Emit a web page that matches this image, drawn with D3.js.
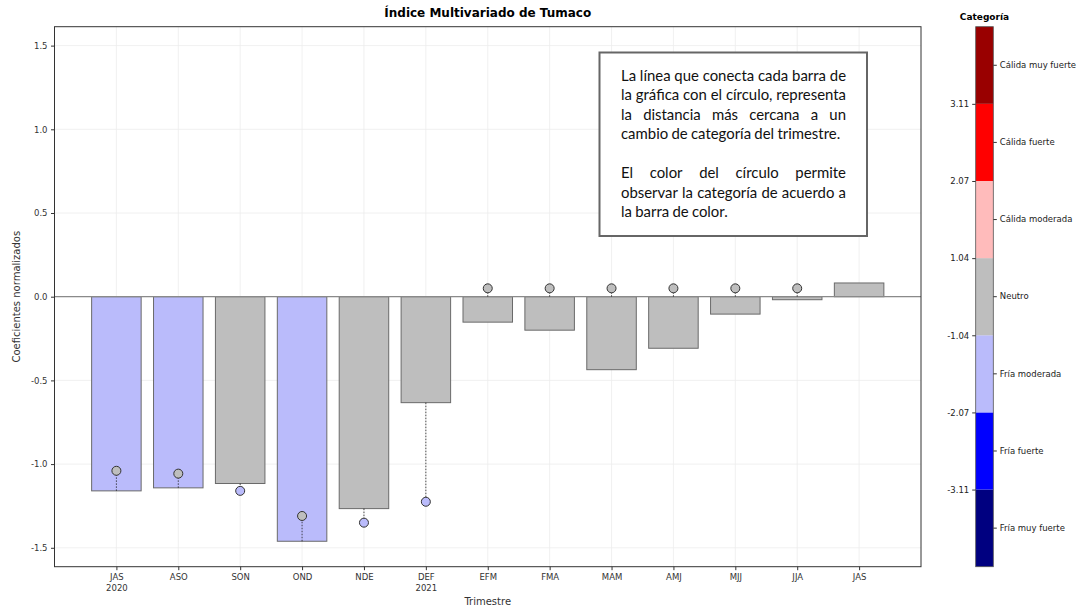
<!DOCTYPE html>
<html>
<head>
<meta charset="utf-8">
<script src="https://cdn.jsdelivr.net/npm/d3@7"></script>
<style>
  body { margin: 0; background: #fff; }
  svg { display: block; }
</style>
</head>
<body>
<div id="chart"></div>
<script>
// datos del gráfico
var trimestres = ["JAS", "ASO", "SON", "OND", "NDE", "DEF", "EFM", "FMA", "MAM", "AMJ", "MJJ", "JJA", "JAS"]
var anios = ["2020", "", "", "", "", "2021", "", "", "", "", "", "", ""]
var coeficientes = [-1.16, -1.142, -1.116, -1.461, -1.266, -0.633, -0.152, -0.20, -0.436, -0.308, -0.104, -0.018, 0.082]
var categoriaBarra = ["Fría moderada", "Fría moderada", "Neutro", "Fría moderada", "Neutro", "Neutro",
                      "Neutro", "Neutro", "Neutro", "Neutro", "Neutro", "Neutro", "Neutro"]
// punto más cercano a un cambio de categoría (null = sin círculo)
var cambio = [-1.04, -1.057, -1.16, -1.31, -1.35, -1.225, 0.05, 0.05, 0.05, 0.05, 0.05, 0.05, null]
var categoriaCirculo = ["Neutro", "Neutro", "Fría moderada", "Neutro", "Fría moderada", "Fría moderada",
                        "Neutro", "Neutro", "Neutro", "Neutro", "Neutro", "Neutro", null]
var yTicks = [-1.5, -1.0, -0.5, 0.0, 0.5, 1.0, 1.5]

// barra de color
var categorias = ["Fría muy fuerte", "Fría fuerte", "Fría moderada", "Neutro", "Cálida moderada", "Cálida fuerte", "Cálida muy fuerte"]
var coloresCategoria = ["#000080", "#0000ff", "#babbfb", "#bebebe", "#ffbbbb", "#ff0000", "#990000"]
var limites = ["-3.11", "-2.07", "-1.04", "1.04", "2.07", "3.11"]

var nota = [
  "La línea que conecta cada barra de",
  "la gráfica con el círculo, representa",
  "la distancia más cercana a un",
  "cambio de categoría del trimestre.",
  "",
  "El color del círculo permite",
  "observar la categoría de acuerdo a",
  "la barra de color."
]
var notaUltimas = [3, 7]   // líneas que no se justifican

var width = 1077,
    height = 609,
    plotLeft = 54.5,
    plotRight = 921,
    plotTop = 26.7,
    plotBottom = 566.7,
    yMax = 1.613

var svg = d3.select("#chart")
  .append("svg")
  .attr("width", width)
  .attr("height", height)
  .style("font-family", "'DejaVu Sans', sans-serif")

var color = d3.scaleOrdinal().domain(categorias).range(coloresCategoria)

var x = d3.scaleLinear().domain([-1, trimestres.length]).range([plotLeft, plotRight])
var y = d3.scaleLinear().domain([-yMax, yMax]).range([plotBottom, plotTop])
var idx = d3.range(trimestres.length)

// grid
svg.append("g").selectAll("line")
  .data(yTicks).join("line")
  .attr("x1", plotLeft).attr("x2", plotRight)
  .attr("y1", d => y(d)).attr("y2", d => y(d))
  .attr("stroke", "#ececec").attr("stroke-width", 0.8)
svg.append("g").selectAll("line")
  .data(idx).join("line")
  .attr("x1", d => x(d)).attr("x2", d => x(d))
  .attr("y1", plotTop).attr("y2", plotBottom)
  .attr("stroke", "#ececec").attr("stroke-width", 0.8)

// barras
var bw = x(0.8) - x(0)
svg.append("g").selectAll("rect")
  .data(coeficientes).join("rect")
  .attr("x", (d, i) => x(i) - bw / 2)
  .attr("width", bw)
  .attr("y", d => y(Math.max(0, d)))
  .attr("height", d => Math.abs(y(d) - y(0)))
  .attr("fill", (d, i) => color(categoriaBarra[i]))
  .attr("stroke", "#6a6a6a")
  .attr("stroke-width", 1)

// linea del cero
svg.append("line")
  .attr("x1", plotLeft).attr("x2", plotRight)
  .attr("y1", y(0)).attr("y2", y(0))
  .attr("stroke", "#8a8a8a").attr("stroke-width", 1.2)

// lineas punteadas y circulos
var conCirculo = idx.filter(i => cambio[i] !== null)
svg.append("g").selectAll("line")
  .data(conCirculo).join("line")
  .attr("x1", i => x(i)).attr("x2", i => x(i))
  .attr("y1", i => y(Math.sign(cambio[i]) === Math.sign(coeficientes[i]) ? coeficientes[i] : 0))
  .attr("y2", i => y(cambio[i]))
  .attr("stroke", "#222").attr("stroke-width", 0.8)
  .attr("stroke-dasharray", "1.5,1.5")
svg.append("g").selectAll("circle")
  .data(conCirculo).join("circle")
  .attr("cx", i => x(i))
  .attr("cy", i => y(cambio[i]))
  .attr("r", 4.5)
  .attr("fill", i => color(categoriaCirculo[i]))
  .attr("stroke", "#333").attr("stroke-width", 1)

// marco
svg.append("rect")
  .attr("x", plotLeft).attr("y", plotTop)
  .attr("width", plotRight - plotLeft).attr("height", plotBottom - plotTop)
  .attr("fill", "none").attr("stroke", "#333").attr("stroke-width", 1)

// ejes
var yAxis = svg.append("g")
  .attr("transform", "translate(" + plotLeft + ",0)")
  .call(d3.axisLeft(y).tickValues(yTicks).tickFormat(d => d.toFixed(1)).tickSize(3.5).tickPadding(3.5))
var xAxis = svg.append("g")
  .attr("transform", "translate(0," + plotBottom + ")")
  .call(d3.axisBottom(x).tickValues(idx).tickFormat(i => trimestres[i]).tickSize(3.5).tickPadding(4))
xAxis.selectAll(".tick text").each(function(i) {
  var t = d3.select(this)
  if (anios[i]) {
    t.text(null)
    t.append("tspan").attr("x", 0).text(trimestres[i])
    t.append("tspan").attr("x", 0).attr("dy", "1.3em").text(anios[i])
  }
})
;[yAxis, xAxis].forEach(function(a) {
  a.select(".domain").remove()
  a.selectAll(".tick line").attr("stroke", "#333")
  a.selectAll(".tick text").attr("fill", "#333")
    .style("font-family", "'DejaVu Sans', sans-serif").style("font-size", "8.5px")
})

// titulos
svg.append("text")
  .attr("x", (plotLeft + plotRight) / 2).attr("y", 17)
  .attr("text-anchor", "middle")
  .style("font-weight", "bold").style("font-size", "12px")
  .text("Índice Multivariado de Tumaco")
svg.append("text")
  .attr("x", (plotLeft + plotRight) / 2).attr("y", 605)
  .attr("text-anchor", "middle").attr("fill", "#333")
  .style("font-size", "10px")
  .text("Trimestre")
svg.append("text")
  .attr("transform", "translate(20," + y(0) + ") rotate(-90)")
  .attr("text-anchor", "middle").attr("fill", "#333")
  .style("font-size", "10px")
  .text("Coeficientes normalizados")

// cuadro de nota
var box = {x: 599.5, y: 52.5, w: 267.5, h: 183.5}
svg.append("rect")
  .attr("x", box.x).attr("y", box.y).attr("width", box.w).attr("height", box.h)
  .attr("fill", "#fff").attr("stroke", "#666").attr("stroke-width", 2)

var textLeft = 621, textRight = 846
var notaG = svg.append("g")
  .style("font-family", "Lato, 'Open Sans', sans-serif")
  .attr("fill", "#111")
// tamaño de letra: que la línea más larga quepa en el cuadro
var fs = 15
var prueba = notaG.append("text").style("font-size", fs + "px").text(nota[1])
fs = Math.min(fs, fs * (textRight - textLeft) / prueba.node().getComputedTextLength())
prueba.remove()
notaG.style("font-size", fs + "px")

nota.forEach(function(linea, k) {
  if (!linea) return
  var base = 80.5 + k * 19.5
  var palabras = linea.split(" ")
  var nodos = palabras.map(p => notaG.append("text").attr("y", base).text(p))
  var anchos = nodos.map(n => n.node().getComputedTextLength())
  var espacio = fs * 0.22
  var total = d3.sum(anchos)
  var gap = (notaUltimas.indexOf(k) >= 0 || palabras.length < 2)
    ? espacio
    : (textRight - textLeft - total) / (palabras.length - 1)
  var cx = textLeft
  nodos.forEach(function(n, j) {
    n.attr("x", cx)
    cx += anchos[j] + gap
  })
})

// barra de color
var cbLeft = 975.7, cbRight = 993.3
var band = d3.scaleBand().domain(categorias).range([plotBottom, plotTop]).padding(0)
svg.append("g").selectAll("rect")
  .data(categorias).join("rect")
  .attr("x", cbLeft).attr("width", cbRight - cbLeft)
  .attr("y", d => band(d))
  .attr("height", band.bandwidth())
  .attr("fill", d => color(d))
svg.append("rect")
  .attr("x", cbLeft).attr("y", plotTop)
  .attr("width", cbRight - cbLeft).attr("height", plotBottom - plotTop)
  .attr("fill", "none").attr("stroke", "#555").attr("stroke-width", 0.8)

var cbIdx = d3.scaleLinear().domain([0, categorias.length]).range([plotBottom, plotTop])
var cbL = svg.append("g")
  .attr("transform", "translate(" + cbLeft + ",0)")
  .call(d3.axisLeft(cbIdx).tickValues(d3.range(1, categorias.length)).tickFormat(i => limites[i - 1]).tickSize(3.5).tickPadding(3))
var cbR = svg.append("g")
  .attr("transform", "translate(" + cbRight + ",0)")
  .call(d3.axisRight(band).tickSize(3.5).tickPadding(3))
;[cbL, cbR].forEach(function(a) {
  a.select(".domain").remove()
  a.selectAll(".tick line").attr("stroke", "#333")
  a.selectAll(".tick text").attr("fill", "#222")
    .style("font-family", "'DejaVu Sans', sans-serif").style("font-size", "8.5px")
})
svg.append("text")
  .attr("x", (cbLeft + cbRight) / 2).attr("y", 20)
  .attr("text-anchor", "middle")
  .style("font-weight", "bold").style("font-size", "9px")
  .text("Categoría")
</script>
</body>
</html>
